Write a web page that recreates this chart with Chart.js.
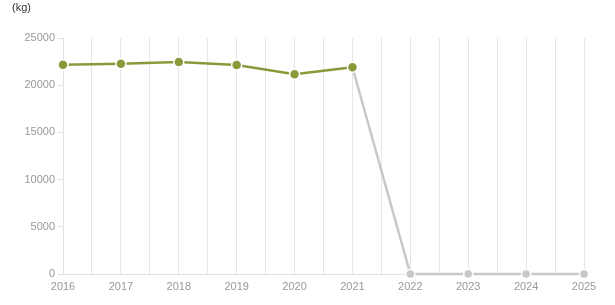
<!DOCTYPE html>
<html>
<head>
<meta charset="utf-8">
<script src="https://cdn.jsdelivr.net/npm/chart.js@4"></script>
<style>
  html, body { margin: 0; padding: 0; background: #fff; }
  #wrap { position: relative; width: 615px; height: 305px; }
  #unit { position: absolute; left: 12px; top: 1px; font: 11px "Liberation Sans", Arial, sans-serif; color: #333; }
</style>
</head>
<body>
<div id="wrap">
  <div id="unit">(kg)</div>
  <canvas id="chart" width="615" height="305"></canvas>
</div>
<script>
// Chart data
const years = [2016, 2017, 2018, 2019, 2020, 2021, 2022, 2023, 2024, 2025];
const actualValues = [22170, 22280, 22460, 22140, 21150, 21900, null, null, null, null];
const forecastValues = [null, null, null, null, null, 21900, 0, 0, 0, 0];
const yTicks = [0, 5000, 10000, 15000, 20000, 25000];

const GREEN = '#8a9a3b';
const GREY = '#c8c8c8';

function toPoints(values) {
  return years.map((yr, i) => ({ x: yr, y: values[i] }));
}

const ctx = document.getElementById('chart').getContext('2d');

new Chart(ctx, {
  type: 'line',
  data: {
    datasets: [
      {
        label: 'actual',
        data: toPoints(actualValues),
        borderColor: GREEN,
        backgroundColor: GREEN,
        borderWidth: 2.5,
        pointRadius: 5,
        pointBorderColor: '#fff',
        pointBorderWidth: 1.5,
        pointBackgroundColor: GREEN,
        spanGaps: false,
        clip: false
      },
      {
        label: 'forecast',
        data: toPoints(forecastValues),
        borderColor: GREY,
        backgroundColor: GREY,
        borderWidth: 2.5,
        pointRadius: c => (c.raw && c.raw.x === 2021 ? 0 : 4.5),
        pointBorderColor: '#fff',
        pointBorderWidth: 1.5,
        pointBackgroundColor: GREY,
        spanGaps: false,
        clip: false
      }
    ]
  },
  options: {
    responsive: false,
    animation: false,
    layout: { padding: { left: 12, right: 31, top: 38, bottom: 0 } },
    plugins: {
      legend: { display: false },
      tooltip: { enabled: false }
    },
    scales: {
      x: {
        type: 'linear',
        min: 2016,
        max: 2025,
        offset: false,
        afterFit: s => { s.height = 31; },
        ticks: {
          stepSize: 0.5,
          autoSkip: false,
          maxRotation: 0,
          padding: 6,
          color: '#999',
          font: { family: '"Liberation Sans", Arial, sans-serif', size: 11 },
          callback: v => (Number.isInteger(v) ? String(v) : '')
        },
        grid: {
          color: '#e6e6e6',
          drawTicks: false
        },
        border: { color: '#e0e0e0' }
      },
      y: {
        min: 0,
        max: 25000,
        afterFit: s => { s.width = 51; },
        afterBuildTicks: s => { s.ticks = yTicks.map(v => ({ value: v })); },
        ticks: {
          padding: 3,
          color: '#999',
          font: { family: '"Liberation Sans", Arial, sans-serif', size: 11 },
          callback: v => String(v)
        },
        grid: {
          drawOnChartArea: false,
          drawTicks: true,
          tickLength: 5,
          color: '#e0e0e0'
        },
        border: { color: '#e0e0e0' }
      }
    }
  }
});
</script>
</body>
</html>
